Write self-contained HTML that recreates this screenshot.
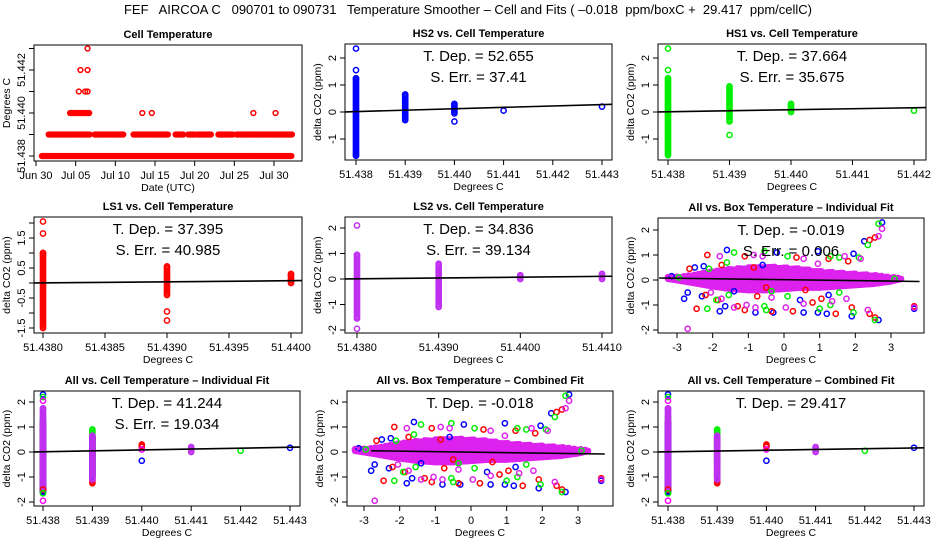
<!DOCTYPE html>
<html><head><meta charset="utf-8">
<style>
html,body{margin:0;padding:0;background:#fff;}
svg{display:block;font-family:"Liberation Sans",sans-serif;}
</style></head>
<body>
<svg id="chart" width="936" height="540" viewBox="0 0 936 540">
<text x="468" y="14" text-anchor="middle" font-size="13" style="white-space:pre" xml:space="preserve">FEF   AIRCOA C   090701 to 090731   Temperature Smoother – Cell and Fits ( –0.018  ppm/boxC +  29.417  ppm/cellC)</text>
</svg>
<script>
// ---------- DATA ----------
const cellRowLevels = [51.438, 51.439, 51.440, 51.441, 51.442, 51.443];
const cellRowSegments = [
  [[0.75,32.3]],
  [[1.6,6.8],[7.4,11.1],[12.3,16.7],[17.6,18.6],[19.2,20.0],[20.3,20.9],[21.2,22.1],[23.0,24.8],[25.3,32.3]],
  [[4.3,6.8],[13.4,13.4],[14.6,14.6],[27.4,27.4],[30.2,30.2]],
  [[5.4,5.4],[6.2,6.3],[6.5,6.5]],
  [[5.6,5.6],[6.5,6.5]],
  [[6.5,6.5]]
];
const dateTicks = [0,5,10,15,20,25,30];
const dateLabels = ["Jun 30","Jul 05","Jul 10","Jul 15","Jul 20","Jul 25","Jul 30"];

const hs2Cols = [[51.438,-1.6,1.25],[51.439,-0.3,0.65],[51.440,-0.05,0.3]];
const hs2Pts = [[51.438,1.55],[51.438,2.35],[51.438,-1.62],[51.440,-0.35],[51.441,0.05],[51.443,0.2]];
const hs1Cols = [[51.438,-1.6,1.25],[51.439,-0.35,0.95],[51.440,0.0,0.3]];
const hs1Pts = [[51.438,1.55],[51.438,2.35],[51.439,-0.85],[51.442,0.05]];
const ls1Cols = [[51.438,-1.45,1.0],[51.439,-0.4,0.55],[51.440,0.0,0.3]];
const ls1Pts = [[51.438,1.65],[51.438,2.05],[51.438,-1.5],[51.439,-0.95],[51.439,-1.25]];
const ls2Cols = [[51.438,-1.55,0.95],[51.439,-1.1,0.6],[51.440,0.0,0.15],[51.441,0.0,0.2]];
const ls2Pts = [[51.438,2.1],[51.438,-1.95]];

const bandX  = [-3.25,-2.8,-2.4,-2.0,-1.5,-1.0,-0.5,0.0,0.5,1.0,1.5,2.0,2.5,3.0,3.3];
const bandLo = [0.05,-0.05,-0.15,-0.25,-0.35,-0.4,-0.4,-0.35,-0.3,-0.3,-0.25,-0.2,-0.15,-0.05,0.05];
const bandHi = [0.12,0.15,0.25,0.35,0.45,0.5,0.55,0.5,0.45,0.35,0.3,0.25,0.2,0.12,0.08];
const boxBlue = [[2.75,2.3],[2.25,1.55],[-1.6,1.2],[0.95,1.15],[-0.2,1.1],[1.95,1.05],[-2.25,0.55],[-2.5,0.5],[-0.6,0.6],[-2.7,-0.5],[-2.8,-0.75],[-2.3,-0.65],[-1.65,-1.05],[-1.8,-1.25],[-0.8,-1.3],[-0.3,-1.3],[0.55,-1.3],[0.95,-1.3],[1.2,-1.35],[1.9,-1.45],[2.65,-1.6],[3.65,-1.15],[-3.15,0.15],[1.25,-0.6],[0.45,-0.8],[-1.4,-0.45]];
const boxRed = [[-2.15,1.0],[-1.1,0.95],[0.35,0.9],[1.25,0.85],[1.8,0.75],[2.4,1.6],[2.55,1.7],[-2.65,0.45],[-1.75,0.6],[-0.85,0.5],[-2.45,-1.15],[-2.2,-0.6],[-1.85,-0.8],[-1.3,-1.05],[-1.1,-1.2],[-0.75,-0.65],[-0.35,-1.25],[0.25,-1.25],[0.8,-0.9],[1.05,-0.75],[1.45,-1.35],[1.9,-1.1],[2.4,-1.35],[2.55,-1.5],[3.65,-1.05],[-0.5,-0.3],[0.6,-0.4]];
const boxGreen = [[2.65,2.25],[2.35,1.4],[-1.4,1.1],[-0.55,1.15],[0.1,0.95],[1.3,0.95],[1.55,0.9],[2.1,0.9],[-2.1,0.45],[-1.6,0.7],[-2.15,-1.15],[-1.9,-0.8],[-1.55,-0.6],[-0.55,-1.05],[-0.5,-1.2],[-0.35,-0.45],[0.1,-0.65],[1.0,-1.15],[1.3,-1.0],[1.55,-0.5],[1.95,-1.3],[2.55,-1.6],[3.1,0.05],[-2.95,0.1]];
const boxMag = [[-2.7,-1.95],[2.75,2.05],[2.65,1.75],[-1.8,0.95],[-0.85,1.0],[-0.6,0.95],[0.55,0.85],[0.95,0.65],[1.7,0.95],[2.15,0.85],[-2.05,-0.5],[-1.75,-0.75],[-1.4,-1.1],[-1.05,-1.0],[-0.8,-1.1],[-0.35,-0.7],[0.05,-1.1],[0.55,-0.95],[1.35,-0.85],[1.75,-0.75],[2.35,-1.2],[3.65,-1.1],[-3.25,0.1]];

const allGreenCols = [[51.438,-1.65,1.4],[51.439,-0.5,0.9]];
const allRedCols   = [[51.438,-1.55,1.2],[51.439,-1.25,0.6],[51.440,0.2,0.3]];
const allBlueCols  = [[51.438,-1.6,1.15],[51.439,-1.0,0.6]];
const allMagCols   = [[51.438,-1.45,1.75],[51.439,-1.1,0.65],[51.441,0.0,0.2]];
const allPts = [["#0000ff",51.438,2.3],["#00ee00",51.438,2.2],["#ff00ff",51.438,2.05],["#ff00ff",51.438,-1.95],["#ff0000",51.438,-1.5],["#00ee00",51.438,-1.65],["#ff0000",51.440,0.25],["#ff00ff",51.440,0.1],["#0000ff",51.440,-0.35],["#00ee00",51.442,0.05],["#0000ff",51.443,0.17]];

// ---------- DRAWING ----------
const NS="http://www.w3.org/2000/svg";
const svg=document.getElementById('chart');
function el(tag,attrs,parent){const e=document.createElementNS(NS,tag);for(const k in attrs)e.setAttribute(k,attrs[k]);(parent||svg).appendChild(e);return e;}
function scale(v0,p0,v1,p1){return v=>p0+(v-v0)*(p1-p0)/(v1-v0);}

function axes(g,P){
  const [l,t,r,b]=P.box;
  const fr=el('rect',{x:l,y:t,width:r-l,height:b-t,fill:'none',stroke:'#000','stroke-width':1},g);
  
  
  const xa=el('g',{},g);
  
  
  const x0=P.sx(P.xticks[0]),x1=P.sx(P.xticks[P.xticks.length-1]);
  el('line',{x1:x0,x2:x1,y1:b,y2:b,stroke:'#000'},xa);
  P.xticks.forEach((v,i)=>{const x=P.sx(v);
    el('line',{x1:x,x2:x,y1:b,y2:b+5,stroke:'#000'},xa);
    const tx=el('text',{x:x,y:b+18,'text-anchor':'middle','font-size':11},xa);tx.textContent=P.xlabels[i];
    
    
  });
  const ya=el('g',{},g);
  
  
  const y0=P.sy(P.yticks[0]),y1=P.sy(P.yticks[P.yticks.length-1]);
  el('line',{x1:l,x2:l,y1:y0,y2:y1,stroke:'#000'},ya);
  P.yticks.forEach((v,i)=>{const y=P.sy(v);
    el('line',{x1:l-5,x2:l,y1:y,y2:y,stroke:'#000'},ya);
    if(P.ylabels[i]!==''){const tx=el('text',{x:0,y:0,'text-anchor':'middle','font-size':11,transform:`translate(${l-9},${y}) rotate(-90)`},ya);tx.textContent=P.ylabels[i];
      
      }
  });
  const ti=el('text',{x:(l+r)/2,y:t-7,'text-anchor':'middle','font-size':11,'font-weight':'bold'},g);ti.textContent=P.title;
  
  
  const xl=el('text',{x:(l+r)/2,y:b+30,'text-anchor':'middle','font-size':10.5},g);xl.textContent=P.xlab;
  
  
  const yl=el('text',{x:0,y:0,'text-anchor':'middle','font-size':10.5,transform:`translate(${l-24},${(t+b)/2}) rotate(-90)`},g);yl.textContent=P.ylab;
  
  
  (P.texts||[]).forEach((s,i)=>{const tx=el('text',{x:(l+r)/2,y:t+17+i*21,'text-anchor':'middle','font-size':15},g);tx.textContent=s;
    
    });
}
function dot(g,x,y,c,r){const d=el('circle',{cx:x,cy:y,r:r||2.6,fill:'none',stroke:c,'stroke-width':1.5},g);
  
  return d;}
function cols(g,P,arr,c){arr.forEach(([x,lo,hi])=>{const px=P.sx(x);const a=P.sy(lo),b=P.sy(hi);
  for(let y=a;y>=b-0.01;y-=1.5)dot(g,px,y,c);dot(g,px,b,c);});}
function pts(g,P,arr,c){arr.forEach(([x,y])=>dot(g,P.sx(x),P.sy(y),c));}
function fit(g,P,x0,y0,x1,y1){const ln=el('line',{x1:P.sx(x0),y1:P.sy(y0),x2:P.sx(x1),y2:P.sy(y1),stroke:'#000','stroke-width':1.6},g);
  
  }
function panel(name,P){const g=el('g',{});
  
  
  const cp=el('clipPath',{id:'c'+name},g);el('rect',{x:P.box[0],y:P.box[1],width:P.box[2]-P.box[0],height:P.box[3]-P.box[1]},cp);
  const d=el('g',{'clip-path':`url(#c${name})`},g);
  P.draw(d,P);axes(g,P);}

const cellTicks=[51.438,51.439,51.440,51.441,51.442,51.443];
const cellLabs=cellTicks.map(v=>v.toFixed(3));
const yT4=[-2,-1,0,1,2];

panel('cell-temperature-panel',{box:[34,45,302,161],sx:scale(0,36,30,274),sy:scale(51.438,156,51.440,113),
  xticks:dateTicks,xlabels:dateLabels,yticks:[51.438,51.439,51.440,51.441,51.442,51.443],
  ylabels:['51.438','','51.440','','51.442',''],
  title:'Cell Temperature',xlab:'Date (UTC)',ylab:'Degrees C',
  draw:(g,P)=>{cellRowLevels.forEach((lv,i)=>cellRowSegments[i].forEach(([a,b])=>{for(let d=a;d<=b+0.001;d+=0.12)dot(g,P.sx(d),P.sy(lv),'#ff0000',2.4);}));}});
panel('hs2-panel',{box:[345,44,612,160],sx:scale(51.438,356,51.443,602),sy:scale(0,112,2,58),
  xticks:cellTicks,xlabels:cellLabs,yticks:[-1,0,1,2],ylabels:['-1','0','1','2'],
  title:'HS2 vs. Cell Temperature',xlab:'Degrees C',ylab:'delta CO2 (ppm)',texts:['T. Dep. =  52.655','S. Err. =  37.41'],
  draw:(g,P)=>{cols(g,P,hs2Cols,'#0000ff');pts(g,P,hs2Pts,'#0000ff');fit(g,P,51.4377,0.0,51.4433,0.29);}});
panel('hs1-panel',{box:[658,44,926,160],sx:scale(51.438,668,51.442,914),sy:scale(0,112,2,58),
  xticks:[51.438,51.439,51.440,51.441,51.442],xlabels:['51.438','51.439','51.440','51.441','51.442'],yticks:[-1,0,1,2],ylabels:['-1','0','1','2'],
  title:'HS1 vs. Cell Temperature',xlab:'Degrees C',ylab:'delta CO2 (ppm)',texts:['T. Dep. =  37.664','S. Err. =  35.675'],
  draw:(g,P)=>{cols(g,P,hs1Cols,'#00ee00');pts(g,P,hs1Pts,'#00ee00');fit(g,P,51.4378,0.0,51.4423,0.17);}});
panel('ls1-panel',{box:[34,217,302,333],sx:scale(51.438,43,51.440,291),sy:scale(0,283,1.5,238),
  xticks:[51.438,51.4385,51.439,51.4395,51.440],xlabels:['51.4380','51.4385','51.4390','51.4395','51.4400'],
  yticks:[-1.5,-1,-0.5,0,0.5,1,1.5,2],ylabels:['-1.5','','-0.5','','0.5','','1.5',''],
  title:'LS1 vs. Cell Temperature',xlab:'Degrees C',ylab:'delta CO2 (ppm)',texts:['T. Dep. =  37.395','S. Err. =  40.985'],
  draw:(g,P)=>{cols(g,P,ls1Cols,'#ff0000');pts(g,P,ls1Pts,'#ff0000');fit(g,P,51.4379,0.0,51.4401,0.08);}});
panel('ls2-panel',{box:[345,217,612,333],sx:scale(51.438,357,51.441,602),sy:scale(0,279,2,228),
  xticks:[51.438,51.439,51.440,51.441],xlabels:['51.4380','51.4390','51.4400','51.4410'],yticks:yT4,ylabels:['-2','-1','0','1','2'],
  title:'LS2 vs. Cell Temperature',xlab:'Degrees C',ylab:'delta CO2 (ppm)',texts:['T. Dep. =  34.836','S. Err. =  39.134'],
  draw:(g,P)=>{cols(g,P,ls2Cols,'#c030f0');pts(g,P,ls2Pts,'#c030f0');fit(g,P,51.4378,0.0,51.4412,0.11);}});
function drawBox(g,P){
  for(let i=0;i<bandX.length-1;i++){for(let x=bandX[i];x<bandX[i+1];x+=0.04){const f=(x-bandX[i])/(bandX[i+1]-bandX[i]);
    const lo=bandLo[i]+(bandLo[i+1]-bandLo[i])*f,hi=bandHi[i]+(bandHi[i+1]-bandHi[i])*f;
    for(let y=P.sy(lo);y>=P.sy(hi);y-=1.6)dot(g,P.sx(x),y,'#dd22ee');}}
  pts(g,P,boxBlue,'#0000ff');pts(g,P,boxRed,'#ff0000');pts(g,P,boxGreen,'#00ee00');pts(g,P,boxMag,'#dd22ee');}
panel('all-box-individual-panel',{box:[658,218,924,333],sx:scale(-3,677,3,891),sy:scale(0,280,2,230),
  xticks:[-3,-2,-1,0,1,2,3],xlabels:['-3','-2','-1','0','1','2','3'],yticks:yT4,ylabels:['-2','-1','0','1','2'],
  title:'All vs. Box Temperature – Individual Fit',xlab:'Degrees C',ylab:'delta CO2 (ppm)',texts:['T. Dep. =  -0.019','S. Err. =  0.006'],
  draw:(g,P)=>{drawBox(g,P);fit(g,P,-3.5,0.08,3.8,-0.06);}});
panel('all-box-combined-panel',{box:[347,391,613,506],sx:scale(-3,364,3,578),sy:scale(0,452,2,402),
  xticks:[-3,-2,-1,0,1,2,3],xlabels:['-3','-2','-1','0','1','2','3'],yticks:yT4,ylabels:['-2','-1','0','1','2'],
  title:'All vs. Box Temperature – Combined Fit',xlab:'Degrees C',ylab:'delta CO2 (ppm)',texts:['T. Dep. =  -0.018'],
  draw:(g,P)=>{drawBox(g,P);fit(g,P,-2.8,0.05,3.75,-0.08);}});
function drawAll(g,P){cols(g,P,allGreenCols,'#00ee00');cols(g,P,allRedCols,'#ff0000');cols(g,P,allBlueCols,'#0000ff');cols(g,P,allMagCols,'#c030f0');
  allPts.forEach(([c,x,y])=>dot(g,P.sx(x),P.sy(y),c));}
panel('all-cell-individual-panel',{box:[34,391,300,506],sx:scale(51.438,43,51.443,290),sy:scale(0,452,2,402),
  xticks:cellTicks,xlabels:cellLabs,yticks:yT4,ylabels:['-2','-1','0','1','2'],
  title:'All vs. Cell Temperature – Individual Fit',xlab:'Degrees C',ylab:'delta CO2 (ppm)',texts:['T. Dep. =  41.244','S. Err. =  19.034'],
  draw:(g,P)=>{drawAll(g,P);fit(g,P,51.4377,0.0,51.4433,0.2);}});
panel('all-cell-combined-panel',{box:[658,391,924,506],sx:scale(51.438,668,51.443,914),sy:scale(0,452,2,402),
  xticks:cellTicks,xlabels:cellLabs,yticks:yT4,ylabels:['-2','-1','0','1','2'],
  title:'All vs. Cell Temperature – Combined Fit',xlab:'Degrees C',ylab:'delta CO2 (ppm)',texts:['T. Dep. =  29.417'],
  draw:(g,P)=>{drawAll(g,P);fit(g,P,51.4377,0.0,51.4433,0.17);}});
</script>
</body></html>
